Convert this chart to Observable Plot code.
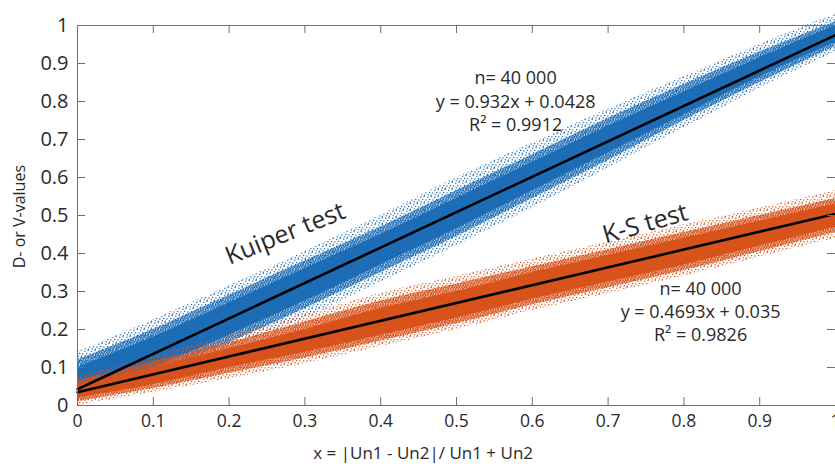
<!DOCTYPE html>
<html><head><meta charset="utf-8">
<script src="https://cdn.jsdelivr.net/npm/d3@7"></script>
<script src="https://cdn.jsdelivr.net/npm/@observablehq/plot@0.6"></script>
<style>html,body{margin:0;padding:0;background:#fff} svg{display:block}</style>
</head><body><div id="chart"></div>
<script>
// ---- data ----
const xGrid = [0, 0.1, 0.2, 0.3, 0.4, 0.5, 0.6, 0.7, 0.8, 0.9, 1.0];
// Kuiper test cloud (blue): sparse outer envelope, mid density, dense core
const kuiperOuterLow  = [0.02, 0.065, 0.145, 0.23, 0.325, 0.42, 0.52, 0.625, 0.73, 0.835, 0.93];
const kuiperOuterHigh = [0.14, 0.225, 0.315, 0.405, 0.50, 0.60, 0.69, 0.78, 0.865, 0.95, 1.03];
const kuiperMidLow    = [0.03, 0.085, 0.165, 0.255, 0.35, 0.445, 0.545, 0.645, 0.75, 0.85, 0.945];
const kuiperMidHigh   = [0.12, 0.20, 0.29, 0.38, 0.47, 0.565, 0.66, 0.755, 0.845, 0.93, 1.01];
const kuiperCoreLow   = [0.04, 0.10, 0.185, 0.275, 0.37, 0.465, 0.565, 0.665, 0.765, 0.865, 0.955];
const kuiperCoreHigh  = [0.10, 0.18, 0.27, 0.36, 0.45, 0.545, 0.64, 0.735, 0.825, 0.915, 1.0];
// K-S test cloud (orange)
const ksOuterLow  = [0.0, 0.035, 0.07, 0.11, 0.155, 0.20, 0.25, 0.295, 0.34, 0.39, 0.44];
const ksOuterHigh = [0.075, 0.13, 0.185, 0.24, 0.295, 0.34, 0.385, 0.43, 0.475, 0.52, 0.565];
const ksMidLow    = [0.01, 0.045, 0.085, 0.125, 0.17, 0.215, 0.265, 0.31, 0.355, 0.405, 0.455];
const ksMidHigh   = [0.065, 0.115, 0.165, 0.22, 0.275, 0.32, 0.365, 0.41, 0.455, 0.50, 0.545];
const ksCoreLow   = [0.02, 0.055, 0.10, 0.14, 0.185, 0.23, 0.28, 0.325, 0.37, 0.42, 0.47];
const ksCoreHigh  = [0.055, 0.10, 0.15, 0.20, 0.255, 0.30, 0.35, 0.395, 0.44, 0.485, 0.53];
// fitted lines (end points at x = 0 and x = 1)
const fitX = [0, 1];
const kuiperFit = [0.0428, 0.9748];
const ksFit = [0.035, 0.5043];
// ticks
const xTicks = [0, 0.1, 0.2, 0.3, 0.4, 0.5, 0.6, 0.7, 0.8, 0.9, 1];
const xTickLabels = ["0", "0.1", "0.2", "0.3", "0.4", "0.5", "0.6", "0.7", "0.8", "0.9", "1"];
const yTicks = [0, 0.1, 0.2, 0.3, 0.4, 0.5, 0.6, 0.7, 0.8, 0.9, 1];
const yTickLabels = ["0", "0.1", "0.2", "0.3", "0.4", "0.5", "0.6", "0.7", "0.8", "0.9", "1"];
// texts
const kuiperNote = ["n= 40 000", "y = 0.932x + 0.0428", "R\u00B2 = 0.9912"];
const ksNote = ["n= 40 000", "y = 0.4693x + 0.035", "R\u00B2 = 0.9826"];
const seriesNames = ["Kuiper test", "K-S test"];
const xLabel = "x = |Un1 - Un2|/ Un1 + Un2";
const yLabel = "D- or V-values";

// ---- build tables ----
const band = (lo, hi) => xGrid.map((x, i) => ({x, lo: lo[i], hi: hi[i]}));
const fit = (ys) => fitX.map((x, i) => ({x, y: ys[i]}));

const BLUE = "#1d6db6", ORANGE = "#d8531c", AXIS = "#6f6f6f", INK = "#2a2a2a";
const areaOpts = {x: "x", y1: "lo", y2: "hi", curve: "monotone-x"};

const plot = Plot.plot({
  width: 835, height: 464,
  marginLeft: 77, marginRight: 0, marginTop: 25, marginBottom: 59,
  x: {domain: [0, 1]},
  y: {domain: [0, 1]},
  style: {fontFamily: "'Open Sans', sans-serif", color: INK, background: "#fff", overflow: "visible"},
  marks: [
    Plot.areaY(band(kuiperOuterLow, kuiperOuterHigh), {...areaOpts, fill: "url(#blueSparse)"}),
    Plot.areaY(band(kuiperMidLow, kuiperMidHigh), {...areaOpts, fill: "url(#blueDense)"}),
    Plot.areaY(band(kuiperCoreLow, kuiperCoreHigh), {...areaOpts, fill: BLUE}),
    Plot.areaY(band(ksOuterLow, ksOuterHigh), {...areaOpts, fill: "url(#orangeSparse)"}),
    Plot.areaY(band(ksMidLow, ksMidHigh), {...areaOpts, fill: "url(#orangeDense)"}),
    Plot.areaY(band(ksCoreLow, ksCoreHigh), {...areaOpts, fill: ORANGE}),
    Plot.line(fit(kuiperFit), {x: "x", y: "y", stroke: "#000", strokeWidth: 2.6}),
    Plot.line(fit(ksFit), {x: "x", y: "y", stroke: "#000", strokeWidth: 2.6}),
    Plot.axisX({ticks: xTicks, tickFormat: d => xTickLabels[xTicks.indexOf(d)], tickSize: 0, tickPadding: 9, fontSize: 17.5, label: null}),
    Plot.axisY({ticks: yTicks, tickFormat: d => yTickLabels[yTicks.indexOf(d)], tickSize: 0, tickPadding: 9, fontSize: 20, label: null}),
    Plot.tickX(xTicks, {x: d => d, insetTop: 372, stroke: AXIS}),
    Plot.tickX(xTicks, {x: d => d, insetBottom: 372, stroke: AXIS}),
    Plot.tickY(yTicks, {y: d => d, insetRight: 750, stroke: AXIS}),
    Plot.tickY(yTicks, {y: d => d, insetLeft: 750, stroke: AXIS}),
    Plot.frame({stroke: AXIS}),
    Plot.text([{t: kuiperNote.join("\n"), x: 0.578, y: 0.803}], {x: "x", y: "y", text: "t", fontSize: 18, lineHeight: 1.3, fill: INK}),
    Plot.text([{t: ksNote.join("\n"), x: 0.822, y: 0.25}], {x: "x", y: "y", text: "t", fontSize: 18, lineHeight: 1.3, fill: INK}),
    Plot.text([{t: seriesNames[0], x: 0.274, y: 0.452}], {x: "x", y: "y", text: "t", fontSize: 25, rotate: -22, fill: INK}),
    Plot.text([{t: seriesNames[1], x: 0.749, y: 0.478}], {x: "x", y: "y", text: "t", fontSize: 25, rotate: -16, fill: INK}),
    Plot.text([{t: xLabel, x: 0.456, y: -0.126}], {x: "x", y: "y", text: "t", fontSize: 17, fill: INK}),
    Plot.text([{t: yLabel, x: -0.076, y: 0.497}], {x: "x", y: "y", text: "t", fontSize: 16, rotate: -90, fill: INK})
  ]
});

const ns = "http://www.w3.org/2000/svg";
const sparse = (id, c) => `<pattern id="${id}" patternUnits="userSpaceOnUse" width="7" height="7">
  <circle cx="0.8" cy="1.2" r="0.75" fill="${c}"/><circle cx="4.1" cy="0.6" r="0.7" fill="${c}"/>
  <circle cx="2.6" cy="3.4" r="0.75" fill="${c}"/><circle cx="5.9" cy="4.0" r="0.7" fill="${c}"/>
  <circle cx="1.3" cy="5.8" r="0.7" fill="${c}"/><circle cx="4.4" cy="6.2" r="0.75" fill="${c}"/>
</pattern>`;
const dense = (id, c) => `<pattern id="${id}" patternUnits="userSpaceOnUse" width="5" height="5">
  <rect width="5" height="5" fill="${c}" fill-opacity="0.35"/>
  <circle cx="0.6" cy="0.7" r="0.9" fill="${c}"/><circle cx="2.9" cy="0.4" r="0.85" fill="${c}"/>
  <circle cx="4.3" cy="2.0" r="0.9" fill="${c}"/><circle cx="1.8" cy="2.4" r="0.9" fill="${c}"/>
  <circle cx="0.5" cy="4.1" r="0.85" fill="${c}"/><circle cx="3.2" cy="3.9" r="0.9" fill="${c}"/>
</pattern>`;
const defs = document.createElementNS(ns, "defs");
defs.innerHTML = sparse("blueSparse", BLUE) + dense("blueDense", BLUE) + sparse("orangeSparse", ORANGE) + dense("orangeDense", ORANGE);
plot.insertBefore(defs, plot.firstChild);
document.getElementById("chart").appendChild(plot);
</script>
</body></html>
